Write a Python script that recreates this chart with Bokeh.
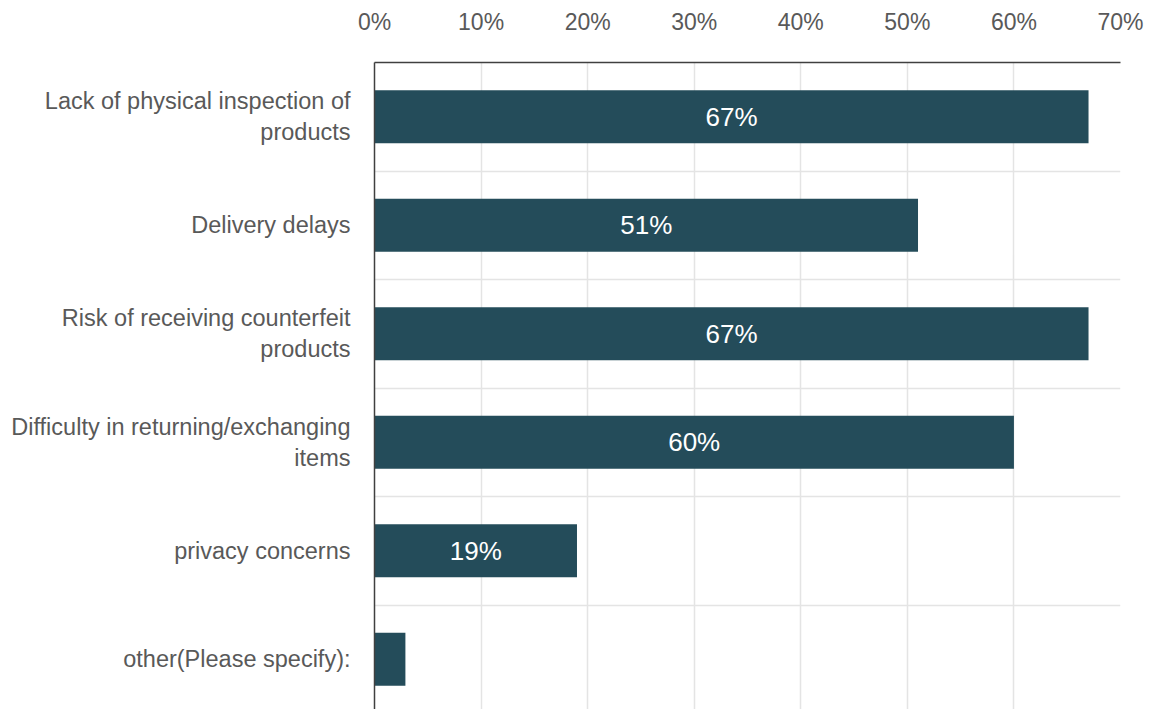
from bokeh.plotting import figure
from bokeh.models import Range1d, FixedTicker, NumeralTickFormatter, ColumnDataSource
from bokeh.core.properties import value
from bokeh.embed import file_html
from bokeh.resources import INLINE

categories = [
    "Lack of physical inspection of\nproducts",
    "Delivery delays",
    "Risk of receiving counterfeit\nproducts",
    "Difficulty in returning/exchanging\nitems",
    "privacy concerns",
    "other(Please specify):",
]
values = [0.67, 0.51, 0.67, 0.60, 0.19, 0.029]
value_labels = ["67%", "51%", "67%", "60%", "19%", ""]
x_ticks = [0.0, 0.1, 0.2, 0.3, 0.4, 0.5, 0.6, 0.7]

FONT = "Liberation Sans"
GRAY = "#595959"
BAR = "#244C5A"

idx = list(range(len(categories)))
src = ColumnDataSource(dict(
    y=idx,
    v=values,
    mid=[v / 2 for v in values],
    lab=value_labels,
))

band_px = 108.5
frame_h = 647
p = figure(
    width=1148, height=709,
    output_backend="svg", toolbar_location=None,
    x_range=Range1d(0, 0.70),
    y_range=Range1d(-0.5 + frame_h / band_px, -0.5),
    x_axis_location="above",
    min_border_left=374, min_border_top=62, min_border_right=28, min_border_bottom=0,
)
p.outline_line_color = None
p.background_fill_color = "white"

p.hbar(y="y", left=0, right="v", height=0.49, source=src,
       fill_color=BAR, line_color=None)
p.text(x="mid", y="y", text="lab", source=src,
       text_color="white", text_font=value(FONT), text_font_size="26px",
       text_align="center", text_baseline="middle")

xa = p.xaxis[0]
xa.ticker = FixedTicker(ticks=x_ticks)
xa.formatter = NumeralTickFormatter(format="0%")
xa.major_tick_line_color = None
xa.minor_tick_line_color = None
xa.major_tick_out = 0
xa.major_label_standoff = 28
xa.major_label_text_font = FONT
xa.major_label_text_font_size = "23px"
xa.major_label_text_color = GRAY
xa.axis_line_color = "#404040"
xa.axis_line_width = 1.5

ya = p.yaxis[0]
ya.ticker = FixedTicker(ticks=idx)
ya.major_label_overrides = {i: c for i, c in zip(idx, categories)}
ya.major_tick_line_color = None
ya.minor_tick_line_color = None
ya.major_tick_out = 0
ya.major_label_standoff = 24
ya.major_label_text_font = FONT
ya.major_label_text_font_size = "23.5px"
ya.major_label_text_color = GRAY
ya.axis_line_color = "#404040"
ya.axis_line_width = 1.5

p.xgrid.grid_line_color = "#E4E4E4"
p.xgrid.grid_line_width = 1.5
p.ygrid.ticker = FixedTicker(ticks=[i + 0.5 for i in idx[:-1]])
p.ygrid.grid_line_color = "#E4E4E4"
p.ygrid.grid_line_width = 1.5

open("out.html", "w").write(file_html(p, INLINE))
